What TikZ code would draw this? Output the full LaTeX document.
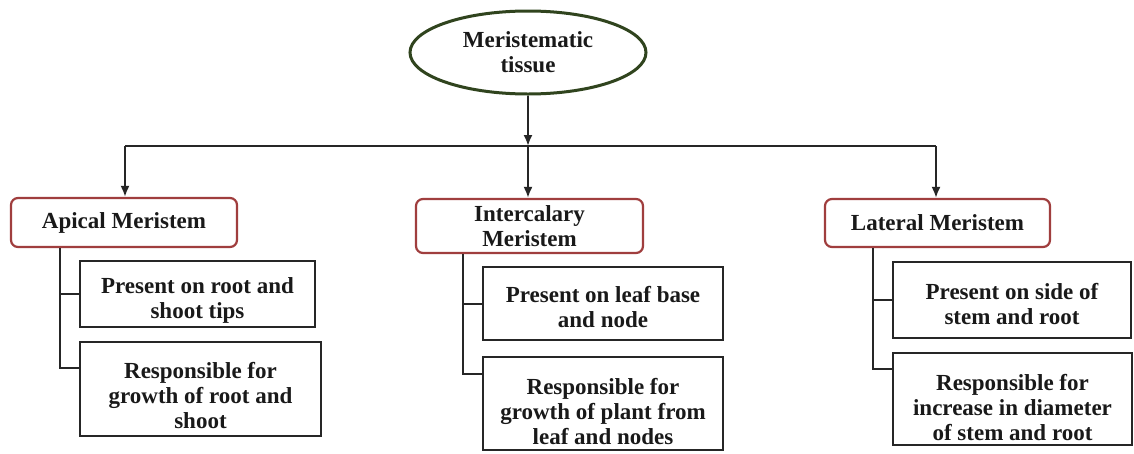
\documentclass[tikz,border=0pt]{standalone}
\usepackage{fontspec}
\setmainfont{Liberation Serif}
\usetikzlibrary{arrows.meta,shapes.geometric}
\definecolor{rootgreen}{RGB}{48,68,30}
\definecolor{boxred}{RGB}{160,62,62}
\tikzset{
  rootnode/.style={ellipse, draw=rootgreen, line width=3pt, minimum width=236pt, minimum height=83pt, inner sep=0pt, fill=white},
  mainbox/.style={rectangle, rounded corners=7pt, draw=boxred, line width=2.2pt, fill=white, inner sep=0pt},
  subbox/.style={rectangle, draw=black!85, line width=2.5pt, fill=white, inner sep=0pt},
  txt/.style={align=center, inner sep=0pt, font=\fontsize{23}{25}\selectfont\bfseries, text=black!90},
  conn/.style={line width=2pt, draw=black!85},
  arr/.style={conn, -{Latex[length=11pt,width=9pt]}}
}
\begin{document}
\begin{tikzpicture}[x=1pt,y=-1pt]
\useasboundingbox[fill=white] (0,0) rectangle (1134,453);
% root
\node[rootnode] (root) at (528,52.5) {};
\node[txt] (roott) at (root.center) {Meristematic\\tissue};
% main boxes
\node[mainbox, minimum width=226pt, minimum height=49pt] (ap) at (124,222.5) {};
\node[txt] (apt) at (ap.center) {Apical Meristem};
\node[mainbox, minimum width=227pt, minimum height=54pt] (ic) at (529.5,226) {};
\node[txt] (ict) at (ic.center) {Intercalary\\Meristem};
\node[mainbox, minimum width=225pt, minimum height=48pt] (la) at (937.5,223) {};
\node[txt] (lat) at (la.center) {Lateral Meristem};
% sub boxes
\node[subbox, minimum width=235pt, minimum height=66pt] (a1) at (197.5,294) {};
\node[txt] (a1t) at ([yshift=-6pt]a1.center) {Present on root and\\shoot tips};
\node[subbox, minimum width=241pt, minimum height=94pt] (a2) at (200.5,389) {};
\node[txt] (a2t) at ([yshift=-7pt]a2.center) {Responsible for\\growth of root and\\shoot};
\node[subbox, minimum width=240pt, minimum height=73pt] (i1) at (603,303.5) {};
\node[txt] (i1t) at ([yshift=-4pt]i1.center) {Present on leaf base\\and node};
\node[subbox, minimum width=240pt, minimum height=93pt] (i2) at (603,403.5) {};
\node[txt] (i2t) at ([yshift=-8pt]i2.center) {Responsible for\\growth of plant from\\leaf and nodes};
\node[subbox, minimum width=238pt, minimum height=76pt] (l1) at (1012,300) {};
\node[txt] (l1t) at ([yshift=-4pt]l1.center) {Present on side of\\stem and root};
\node[subbox, minimum width=239pt, minimum height=92pt] (l2) at (1012.5,399) {};
\node[txt] (l2t) at ([yshift=-9pt]l2.center) {Responsible for\\increase in diameter\\of stem and root};
% distribution line
\coordinate (hub) at (528,146);
\coordinate (hl) at (125,146);
\coordinate (hr) at (936,146);
\draw[arr] (root.south) -- (hub);
\draw[conn] (hl) -- (hr);
\draw[arr] (hl) -- (hl |- ap.north);
\draw[arr] (hub) -- (hub |- ic.north);
\draw[arr] (hr) -- (hr |- la.north);
% brackets
\coordinate (av) at (60,0);
\coordinate (iv) at (463,0);
\coordinate (lv) at (873,0);
\coordinate (a2k) at ([yshift=-27pt]a2.north west);
\coordinate (i2k) at ([yshift=-18pt]i2.north west);
\coordinate (l2k) at ([yshift=-17pt]l2.north west);
\draw[conn] (av |- ap.south) |- (a2k);
\draw[conn] (av |- a1.west) -- (a1.west);
\draw[conn] (iv |- ic.south) |- (i2k);
\draw[conn] (iv |- i1.west) -- (i1.west);
\draw[conn] (lv |- la.south) |- (l2k);
\draw[conn] (lv |- l1.west) -- (l1.west);
\end{tikzpicture}
\end{document}
